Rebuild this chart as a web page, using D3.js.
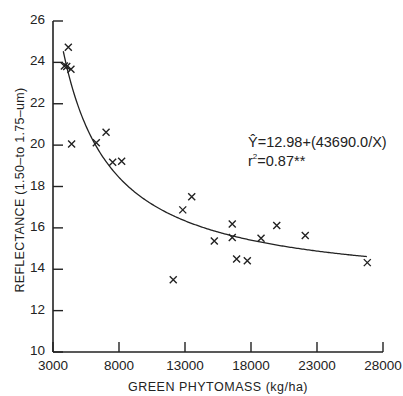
<!DOCTYPE html>
<html>
<head>
<meta charset="utf-8">
<script src="https://cdn.jsdelivr.net/npm/d3@7"></script>
<style>
  body { margin: 0; background: #fff; }
  text { fill: #222; }
</style>
</head>
<body>
<div id="chart"></div>
<script>
// green phytomass (kg/ha) vs reflectance
const phytomass = [4160, 3860, 4040, 4360, 4410, 6280, 7020, 7520, 8200,
                   12110, 12830, 13510, 15220, 16580, 16580, 16910, 17720,
                   18760, 19950, 22110, 26810];
const reflectance = [24.73, 23.83, 23.8, 23.67, 20.06, 20.12, 20.62, 19.17, 19.22,
                     13.49, 16.87, 17.51, 15.37, 16.19, 15.53, 14.49, 14.41,
                     15.5, 16.11, 15.63, 14.32];
const xTicks = [3000, 8000, 13000, 18000, 23000, 28000];
const yTicks = [10, 12, 14, 16, 18, 20, 22, 24, 26];

// fitted curve Y = a + b / X (coefficients printed on chart)
const fitA = 12.98, fitB = 43690.0;
const fitRange = [3780, 26800];

const width = 403, height = 396;
const svg = d3.select("#chart").append("svg")
    .attr("width", width)
    .attr("height", height);

const x = d3.scaleLinear().domain([3000, 28000]).range([53, 383]);
const y = d3.scaleLinear().domain([10, 26]).range([352, 21]);

const ink = "#222";
const font = "'Liberation Sans', Arial, sans-serif";

// Y axis
svg.append("line")
    .attr("x1", x(3000)).attr("x2", x(3000))
    .attr("y1", y(26)).attr("y2", y(10))
    .attr("stroke", ink).attr("stroke-width", 1.6);
svg.selectAll(".ytick").data(yTicks).enter().append("line")
    .attr("x1", x(3000)).attr("x2", x(3000) + 10)
    .attr("y1", d => y(d)).attr("y2", d => y(d))
    .attr("stroke", ink).attr("stroke-width", 1.4);
svg.selectAll(".ylab").data(yTicks).enter().append("text")
    .attr("x", 45)
    .attr("y", d => y(d) + 3)
    .attr("text-anchor", "end")
    .attr("font-family", font)
    .attr("font-size", 13.5)
    .text(d => d);

// X axis
svg.append("line")
    .attr("x1", x(3000)).attr("x2", x(28000))
    .attr("y1", y(10)).attr("y2", y(10))
    .attr("stroke", ink).attr("stroke-width", 1.6);
svg.selectAll(".xtick").data(xTicks).enter().append("line")
    .attr("x1", d => x(d)).attr("x2", d => x(d))
    .attr("y1", y(10)).attr("y2", y(10) - 10)
    .attr("stroke", ink).attr("stroke-width", 1.4);
svg.selectAll(".xlab").data(xTicks).enter().append("text")
    .attr("x", d => x(d))
    .attr("y", 370)
    .attr("text-anchor", "middle")
    .attr("font-family", font)
    .attr("font-size", 13.5)
    .text(d => d);

// axis titles
svg.append("text")
    .attr("x", 218).attr("y", 391)
    .attr("text-anchor", "middle")
    .attr("font-family", font)
    .attr("font-size", 12.5)
    .attr("letter-spacing", 0.5)
    .text("GREEN PHYTOMASS (kg/ha)");

svg.append("text")
    .attr("transform", "translate(24,190) rotate(-90)")
    .attr("text-anchor", "middle")
    .attr("font-family", font)
    .attr("font-size", 12.5)
    .attr("letter-spacing", 0.3)
    .text("REFLECTANCE (1.50–to 1.75–um)");

// fitted curve
const curveXs = d3.range(fitRange[0], fitRange[1] + 1, 100);
svg.append("path")
    .datum(curveXs)
    .attr("fill", "none")
    .attr("stroke", ink)
    .attr("stroke-width", 1.3)
    .attr("d", d3.line().x(d => x(d)).y(d => y(fitA + fitB / d)));

// data crosses
const pts = phytomass.map((p, i) => ({ p, r: reflectance[i] }));
const s = 3.5;
svg.selectAll(".pt").data(pts).enter().append("path")
    .attr("d", d => {
        const cx = x(d.p), cy = y(d.r);
        return `M${cx - s},${cy - s}L${cx + s},${cy + s}M${cx - s},${cy + s}L${cx + s},${cy - s}`;
    })
    .attr("stroke", ink)
    .attr("stroke-width", 1.4);

// equation annotation
const eq = svg.append("text")
    .attr("x", 248).attr("y", 147)
    .attr("font-family", font)
    .attr("font-size", 14.5);
eq.append("tspan").text("Ŷ=12.98+(43690.0/X)");

const r2 = svg.append("text")
    .attr("x", 248).attr("y", 166)
    .attr("font-family", font)
    .attr("font-size", 14.5);
r2.append("tspan").text("r");
r2.append("tspan").attr("dy", -7).attr("font-size", 8).text("2");
r2.append("tspan").attr("dy", 7).text("=0.87**");
</script>
</body>
</html>
